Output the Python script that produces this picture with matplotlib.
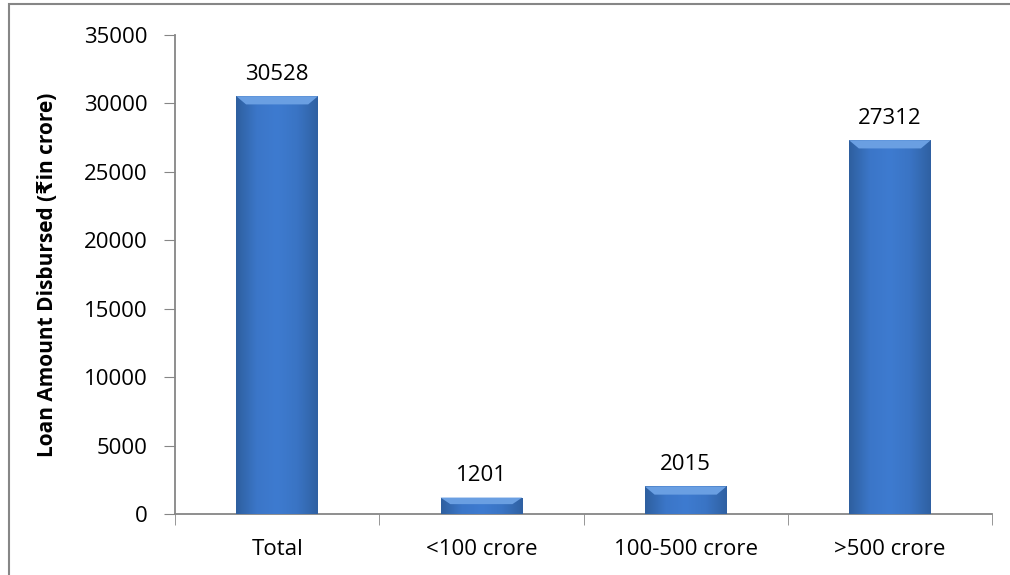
import numpy as np
import matplotlib.pyplot as plt
from matplotlib.colors import LinearSegmentedColormap
from matplotlib.patches import Rectangle, Polygon

categories = ['Total', '<100 crore', '100-500 crore', '>500 crore']
amounts = [30528, 1201, 2015, 27312]
y_ticks = [0, 5000, 10000, 15000, 20000, 25000, 30000, 35000]

plt.rcParams['font.family'] = ['Open Sans', 'DejaVu Sans']
axis_grey = '#868686'

fig = plt.figure(figsize=(10.1, 5.75), dpi=100)
ax = fig.add_axes([175/1010, 1 - 514/575, (992-175)/1010, (514-35)/575])

x = np.arange(len(categories))
bars = ax.bar(x, amounts, width=0.4, color='#3a72c0', zorder=2)

# horizontal shading to get the rounded look
cmap = LinearSegmentedColormap.from_list('barshade',
        ['#2e5f9f', '#3b76c8', '#3e7bd0', '#3a74c4', '#2f60a2'])
grad = np.linspace(0, 1, 256).reshape(1, -1)
bevel = 600  # height of top bevel in data units
for b in bars:
    x0, w, h = b.get_x(), b.get_width(), b.get_height()
    im = ax.imshow(grad, cmap=cmap, aspect='auto', extent=[x0, x0 + w, 0, h], zorder=3)
    im.set_clip_path(b)
    bh = min(bevel, h * 0.4)
    dx = w * 0.12
    top = Polygon([[x0, h], [x0 + w, h], [x0 + w - dx, h - bh], [x0 + dx, h - bh]],
                  closed=True, facecolor='#6a9fe2', edgecolor='none', zorder=4)
    ax.add_patch(top)

for xi, v in zip(x, amounts):
    ax.annotate(str(v), (xi, v), xytext=(0, 8), textcoords='offset points',
                ha='center', va='bottom', fontsize=16)

ax.set_xlim(-0.5, len(categories) - 0.5)
ax.set_ylim(0, 35000)
ax.set_yticks(y_ticks)
ax.set_yticklabels([str(t) for t in y_ticks], fontsize=16)
ax.set_xticks(x)
ax.set_xticklabels(categories, fontsize=16)
ax.set_xticks(np.arange(-0.5, len(categories)), minor=True)
ax.tick_params(axis='x', which='major', length=0, pad=18)
ax.tick_params(axis='x', which='minor', length=8, color=axis_grey, direction='out')
ax.tick_params(axis='y', length=8, color=axis_grey, direction='out', pad=12)
for s in ['top', 'right']:
    ax.spines[s].set_visible(False)
for s in ['left', 'bottom']:
    ax.spines[s].set_color(axis_grey)
    ax.spines[s].set_linewidth(1.3)

ax.set_ylabel('Loan Amount Disbursed (₹in crore)', fontsize=15, fontweight='bold', labelpad=18)

# chart-area border (cropped at right and bottom)
fig.patches.append(Rectangle((9/1010, -0.1), 1.2, 1.1 - 4/575, transform=fig.transFigure,
                             fill=False, edgecolor=axis_grey, linewidth=1.5))

fig.savefig('out.png', dpi=100)
